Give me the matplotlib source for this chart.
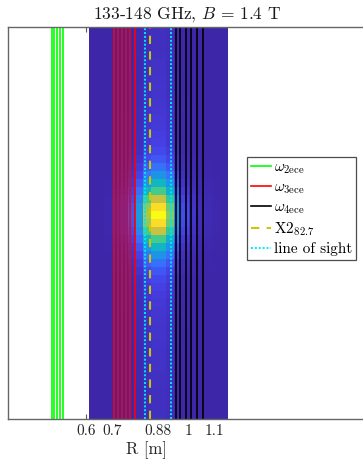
import numpy as np
import matplotlib
matplotlib.use('Agg')
import matplotlib.pyplot as plt
from matplotlib.colors import LinearSegmentedColormap

plt.rcParams['mathtext.fontset'] = 'cm'
plt.rcParams['font.family'] = 'cmr10'
plt.rcParams['axes.formatter.use_mathtext'] = True

# resonance positions [m]
r_2ece = [0.466, 0.476, 0.487, 0.498, 0.509]
r_3ece = [0.709, 0.725, 0.741, 0.756, 0.772, 0.790]
r_4ece = [0.949, 0.968, 0.990, 1.010, 1.033, 1.057]
r_x2 = [0.849]
r_sight = [0.830, 0.931]

tick_vals = [0.6, 0.7, 0.88, 1.0, 1.1]
tick_labels = ['0.6', '0.7', '0.88', '1', '1.1']

# beam power grid: radial cells and vertical cells
r_edges_lim = (0.612, 1.152)
z_edges_lim = (-0.49, 0.49)
radial_profile = [0.0, 0.0, 0.01, 0.03, 0.06, 0.15, 0.35, 0.75, 1.0,
                  1.0, 0.7, 0.3, 0.13, 0.06, 0.03, 0.02, 0.01, 0.0]
# top to bottom
vertical_profile = [0.04, 0.04, 0.04, 0.045, 0.05, 0.05, 0.055, 0.06, 0.06, 0.065,
                    0.07, 0.075,
                    0.08, 0.09, 0.10, 0.12, 0.16, 0.22, 0.32, 0.45, 0.6, 0.8, 0.95,
                    1.0,
                    0.95, 0.8, 0.6, 0.45, 0.32, 0.22, 0.16, 0.12, 0.10, 0.085,
                    0.075, 0.07, 0.065, 0.06, 0.06, 0.055, 0.05, 0.05, 0.05,
                    0.045, 0.045, 0.04, 0.04, 0.04, 0.04]

# parula-like colormap
parula = LinearSegmentedColormap.from_list('parula', [
    (0.00, (0.2422, 0.1504, 0.6603)),
    (0.10, (0.2760, 0.2470, 0.9000)),
    (0.20, (0.2300, 0.4200, 0.9900)),
    (0.30, (0.1300, 0.5600, 0.9200)),
    (0.40, (0.0500, 0.6700, 0.8300)),
    (0.50, (0.0900, 0.7500, 0.7000)),
    (0.60, (0.2600, 0.8000, 0.5500)),
    (0.70, (0.5200, 0.8000, 0.3700)),
    (0.80, (0.7900, 0.7600, 0.2500)),
    (0.90, (0.9900, 0.7300, 0.2400)),
    (1.00, (0.9769, 0.9839, 0.0805)),
])

power = np.outer(vertical_profile[::-1], radial_profile)
r_edges = np.linspace(*r_edges_lim, len(radial_profile) + 1)
z_edges = np.linspace(*z_edges_lim, len(vertical_profile) + 1)

fig = plt.figure(figsize=(3.63, 4.66), dpi=100)
ax = fig.add_axes([7.5 / 363, 47 / 466, 358.5 / 363, 392 / 466])

mesh = ax.pcolormesh(r_edges, z_edges, power, cmap=parula,
                     vmin=0, vmax=power.max(), shading='flat', zorder=1)

lw = 1.2
for i, r in enumerate(r_2ece):
    ax.axvline(r, color=(0, 1, 0), lw=lw, zorder=2,
               label=r'$\omega_{\rm 2ece}$' if i == 0 else None)
for i, r in enumerate(r_3ece):
    ax.axvline(r, color=(1, 0, 0), lw=lw, zorder=2,
               label=r'$\omega_{\rm 3ece}$' if i == 0 else None)
for i, r in enumerate(r_4ece):
    ax.axvline(r, color='black', lw=lw, zorder=2,
               label=r'$\omega_{\rm 4ece}$' if i == 0 else None)
for i, r in enumerate(r_x2):
    ax.axvline(r, color=(0.8, 0.78, 0.0), lw=1.5, ls=(0, (4, 3.5)), zorder=2,
               label=r'X2$_{82.7}$' if i == 0 else None)
for i, r in enumerate(r_sight):
    ax.axvline(r, color=(0, 0.9, 1), lw=1.4, ls=(0, (1, 1)), zorder=2,
               label='line of sight' if i == 0 else None)

ax.set_xlim(0.294, 0.294 + 358.5 / 256.6)
ax.set_ylim(*z_edges_lim)
ax.set_axisbelow(True)
ax.set_xticks(tick_vals)
ax.set_xticklabels(tick_labels, fontsize=11)
ax.set_yticks([])
ax.tick_params(axis='x', direction='in', top=True, length=3.5,
               color='0.35', labelcolor='0.15', pad=4)
for s in ax.spines.values():
    s.set_color('0.4')
    s.set_linewidth(1.0)

ax.set_xlabel('R [m]', fontsize=12, color='0.15')
ax.xaxis.set_label_coords((147 - 7.5) / 358.5, -0.058)
ax.set_title('133-148 GHz, $B\\,=\\,1.4$ T', fontsize=12.5, color='0.1', pad=6)

leg = ax.legend(loc='upper left', bbox_to_anchor=(247 / 363, 1 - 156.7 / 466),
                bbox_transform=fig.transFigure, fontsize=11, frameon=True,
                fancybox=False, framealpha=1, edgecolor='0.3',
                handlelength=1.35, handletextpad=0.15, labelspacing=0.3,
                borderpad=0.25, borderaxespad=0)
leg.get_frame().set_linewidth(0.9)

fig.savefig('out.png', dpi=100)
